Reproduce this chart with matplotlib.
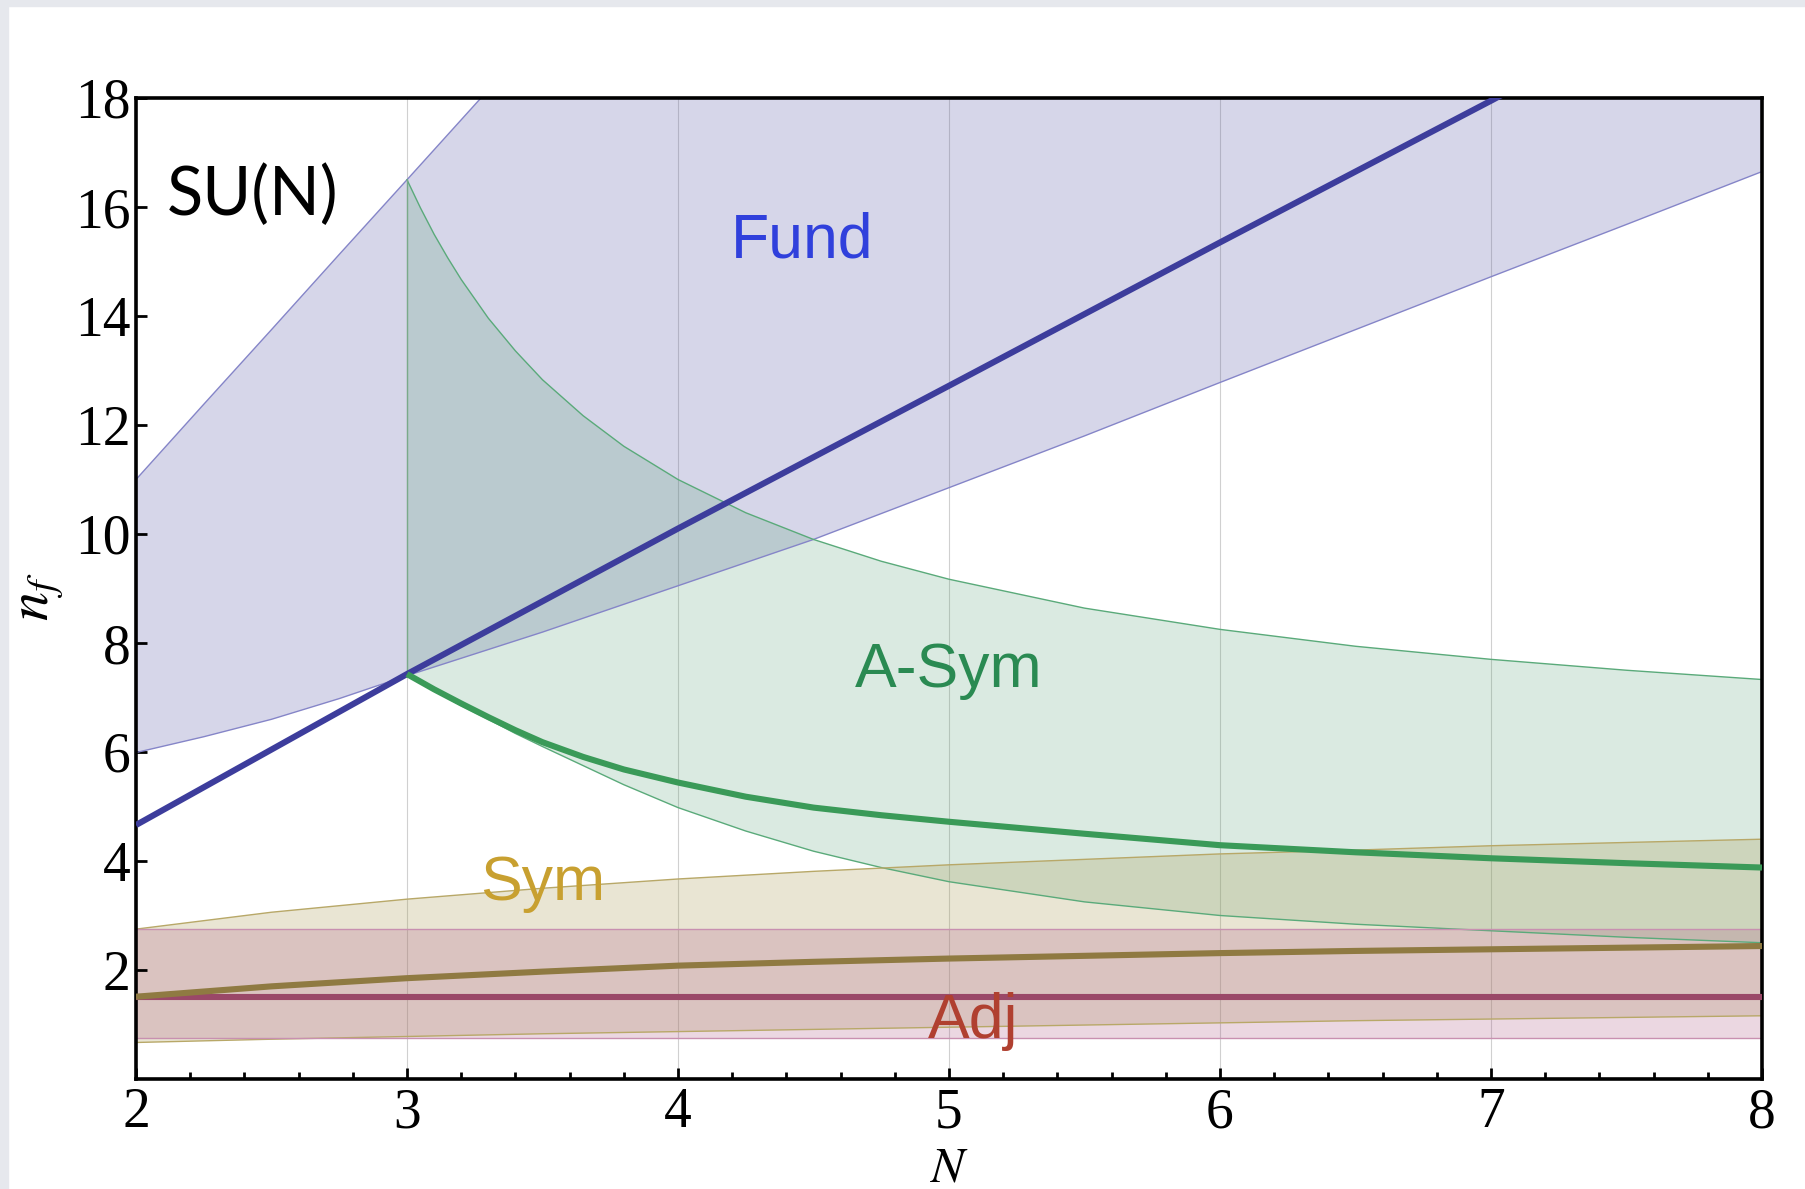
import numpy as np
from matplotlib import pyplot as plt
from matplotlib.patches import Rectangle
from matplotlib.ticker import MultipleLocator

plt.rcParams['mathtext.fontset'] = 'stix'

# fundamental rep
N_fund = [2, 2.25, 2.5, 2.75, 3, 3.5, 4, 4.5, 5, 5.5, 6, 6.5, 7, 7.5, 8]
fund_upper = [11.0, 12.38, 13.75, 15.13, 16.5, 19.25, 22.0, 24.75, 27.5, 30.25, 33.0, 35.75, 38.5, 41.25, 44.0]
fund_lower = [5.99, 6.28, 6.6, 6.98, 7.4, 8.2, 9.05, 9.9, 10.85, 11.8, 12.78, 13.75, 14.72, 15.68, 16.65]
N_fund_line = [2, 3, 4, 5, 6, 7, 8]
fund_line = [4.66, 7.43, 10.1, 12.72, 15.35, 17.95, 20.6]

# two-index antisymmetric
N_asym = [3, 3.05, 3.1, 3.15, 3.2, 3.3, 3.4, 3.5, 3.65, 3.8, 4, 4.25, 4.5, 4.75, 5, 5.5, 6, 6.5, 7, 7.5, 8]
asym_upper = [16.5, 15.98, 15.5, 15.07, 14.67, 13.96, 13.36, 12.83, 12.17, 11.61, 11.0, 10.39, 9.9, 9.5,
              9.17, 8.64, 8.25, 7.94, 7.7, 7.5, 7.33]
asym_lower = [7.43, 7.28, 7.13, 6.99, 6.85, 6.6, 6.34, 6.1, 5.75, 5.4, 4.98, 4.55, 4.18, 3.88,
              3.62, 3.25, 3.0, 2.84, 2.72, 2.6, 2.5]
asym_line = [7.43, 7.29, 7.15, 7.02, 6.89, 6.64, 6.4, 6.18, 5.91, 5.68, 5.44, 5.18, 4.98, 4.84,
             4.72, 4.5, 4.29, 4.16, 4.05, 3.96, 3.88]

# two-index symmetric
N_sym = [2, 2.5, 3, 3.5, 4, 4.5, 5, 5.5, 6, 6.5, 7, 7.5, 8]
sym_upper = [2.75, 3.06, 3.3, 3.5, 3.67, 3.81, 3.93, 4.03, 4.13, 4.2, 4.28, 4.34, 4.4]
sym_lower = [0.67, 0.73, 0.78, 0.83, 0.87, 0.91, 0.95, 0.99, 1.03, 1.07, 1.10, 1.13, 1.16]
sym_line = [1.51, 1.7, 1.85, 1.97, 2.08, 2.15, 2.21, 2.26, 2.31, 2.35, 2.38, 2.41, 2.44]

# adjoint
N_adj = [2, 8]
adj_upper = [2.75, 2.75]
adj_lower = [0.75, 0.75]
adj_line = [1.5, 1.5]

fig = plt.figure(figsize=(18.06, 11.89), dpi=100)
fig.patches.append(Rectangle((0, 1 - 6/1189), 1, 6/1189, transform=fig.transFigure, color='#e6e8ed', zorder=-1))
fig.patches.append(Rectangle((0, 0), 8/1806, 1, transform=fig.transFigure, color='#e6e8ed', zorder=-1))

ax = fig.add_axes([136/1806, 1 - 1079/1189, 1626/1806, 981/1189])

for x in [3, 4, 5, 6, 7]:
    ax.axvline(x, color='#d0d0d0', lw=0.8, zorder=0.5)

# bands
ax.fill_between(N_fund, fund_lower, fund_upper, facecolor='#5e5ea8', alpha=0.25, lw=0, zorder=1)
ax.fill_between(N_asym, asym_lower, asym_upper, facecolor='#4a9a6a', alpha=0.2, lw=0, zorder=1)
ax.fill_between(N_sym, sym_lower, sym_upper, facecolor='#a89a50', alpha=0.25, lw=0, zorder=1)
ax.fill_between(N_adj, adj_lower, adj_upper, facecolor='#b0608a', alpha=0.25, lw=0, zorder=1)

# band edges
ax.plot(N_fund, fund_upper, color='#8585c8', lw=1.0, zorder=2)
ax.plot(N_fund, fund_lower, color='#8585c8', lw=1.0, zorder=2)
ax.plot(N_asym, asym_upper, color='#5aaa7a', lw=1.0, zorder=2)
ax.plot(N_asym, asym_lower, color='#5aaa7a', lw=1.0, zorder=2)
ax.plot([3, 3], [asym_lower[0], asym_upper[0]], color='#7aaa8a', lw=1.0, zorder=2)
ax.plot(N_sym, sym_upper, color='#b8a868', lw=1.0, zorder=2)
ax.plot(N_sym, sym_lower, color='#b8a868', lw=1.0, zorder=2)
ax.plot(N_adj, adj_upper, color='#c890b0', lw=1.0, zorder=2)
ax.plot(N_adj, adj_lower, color='#c890b0', lw=1.0, zorder=2)

# central lines
ax.plot(N_fund_line, fund_line, color='#3d3d9c', lw=4.4, zorder=3, solid_capstyle='butt')
ax.plot(N_asym, asym_line, color='#3a9a58', lw=4.4, zorder=3, solid_capstyle='butt')
ax.plot(N_adj, adj_line, color='#9a4868', lw=4.4, zorder=3, solid_capstyle='butt')
ax.plot(N_sym, sym_line, color='#8f7a42', lw=4.4, zorder=3, solid_capstyle='butt')

ax.set_xlim(2, 8)
ax.set_ylim(0, 18)
ax.set_yticks([2, 4, 6, 8, 10, 12, 14, 16, 18])
ax.set_xticks([2, 3, 4, 5, 6, 7, 8])
ax.xaxis.set_minor_locator(MultipleLocator(0.2))
ax.tick_params(which='both', direction='in', top=False, right=False, width=2)
ax.tick_params(which='major', length=8, labelsize=40)
ax.tick_params(which='minor', length=5)
ax.tick_params(axis='x', pad=6)
ax.tick_params(axis='y', pad=4)
for lab in ax.get_xticklabels() + ax.get_yticklabels():
    lab.set_fontfamily('Liberation Serif')
for s in ax.spines.values():
    s.set_linewidth(2.6)

sans = ['Liberation Sans', 'DejaVu Sans']
ax.text(2.115, 16.2, 'SU(N)', fontsize=48, family=['Lato', 'DejaVu Sans'], ha='left', va='center', color='black')
ax.text(4.46, 15.37, 'Fund', fontsize=45, family=sans, ha='center', va='center', color='#3040dc')
ax.text(5.0, 7.5, 'A-Sym', fontsize=45, family=sans, ha='center', va='center', color='#2a8a52')
ax.text(3.5, 3.58, 'Sym', fontsize=45, family=sans, ha='center', va='center', color='#c8a030')
ax.text(5.09, 1.05, 'Adj', fontsize=45, family=sans, ha='center', va='center', color='#b04030')

fig.text(949/1806, 1 - 1143/1189, '$N$', fontsize=36, ha='center', va='top')
fig.text(37/1806, 1 - 597/1189, '$n_f$', fontsize=42, ha='center', va='center', rotation=90)

fig.savefig('out.png', dpi=100)
